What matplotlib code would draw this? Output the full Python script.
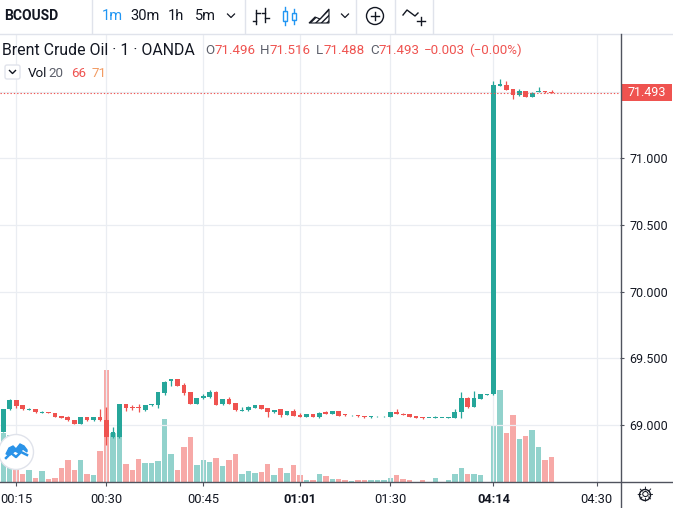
import matplotlib
matplotlib.use('Agg')
import matplotlib.pyplot as plt
import matplotlib.patches as mpatches

plt.rcParams['font.family'] = ['Roboto', 'DejaVu Sans']

W, H = 673, 508

# x axis: bar index positions of the time labels
time_ticks = [2, 16, 31, 46, 60, 76, 92]
time_labels = ['00:15', '00:30', '00:45', '01:01', '01:30', '04:14', '04:30']
bold_labels = ['01:01', '04:14']

price_ticks = [69.0, 69.5, 70.0, 70.5, 71.0]
last_price = 71.493

opens = [68.950, 69.118, 69.188, 69.150, 69.115, 69.118, 69.093, 69.094, 69.088, 69.068,
         69.062, 69.035, 69.010, 69.060, 69.035, 69.060, 69.035, 68.908, 68.908, 69.155,
         69.135, 69.132, 69.113, 69.148, 69.150, 69.240, 69.328, 69.343, 69.300, 69.245,
         69.160, 69.200, 69.212, 69.250, 69.155, 69.195, 69.163, 69.108, 69.110, 69.130,
         69.150, 69.125, 69.098, 69.118, 69.075, 69.107, 69.075, 69.062, 69.080, 69.062,
         69.100, 69.085, 69.105, 69.077, 69.072, 69.075, 69.068, 69.058, 69.064, 69.064,
         69.062, 69.095, 69.085, 69.080, 69.065, 69.060, 69.051, 69.051, 69.051, 69.052,
         69.052, 69.095, 69.200, 69.137, 69.197, 69.228, 69.230, 71.545, 71.550, 71.518,
         71.477, 71.503, 71.462, 71.501, 71.505, 71.496]
highs = [69.120, 69.192, 69.190, 69.152, 69.125, 69.120, 69.102, 69.096, 69.090, 69.070,
         69.064, 69.037, 69.062, 69.062, 69.062, 69.120, 69.137, 68.983, 69.157, 69.157,
         69.150, 69.158, 69.150, 69.160, 69.247, 69.327, 69.345, 69.345, 69.313, 69.247,
         69.202, 69.230, 69.265, 69.252, 69.197, 69.212, 69.165, 69.137, 69.139, 69.150,
         69.152, 69.127, 69.112, 69.120, 69.107, 69.122, 69.090, 69.082, 69.082, 69.094,
         69.102, 69.105, 69.107, 69.079, 69.076, 69.077, 69.070, 69.067, 69.068, 69.068,
         69.097, 69.120, 69.087, 69.082, 69.067, 69.062, 69.055, 69.065, 69.055, 69.062,
         69.120, 69.250, 69.210, 69.258, 69.235, 69.234, 71.582, 71.593, 71.582, 71.520,
         71.518, 71.505, 71.495, 71.537, 71.507, 71.516]
lows = [68.945, 69.115, 69.130, 69.115, 69.110, 69.093, 69.088, 69.090, 69.060, 69.052,
        69.033, 69.008, 69.008, 69.033, 69.033, 69.033, 68.850, 68.905, 68.905, 69.105,
        69.113, 69.098, 69.105, 69.140, 69.130, 69.225, 69.295, 69.293, 69.228, 69.156,
        69.158, 69.193, 69.205, 69.148, 69.153, 69.158, 69.108, 69.106, 69.108, 69.128,
        69.120, 69.058, 69.088, 69.062, 69.073, 69.068, 69.060, 69.060, 69.060, 69.055,
        69.081, 69.083, 69.068, 69.071, 69.070, 69.063, 69.056, 69.056, 69.062, 69.062,
        69.060, 69.083, 69.073, 69.060, 69.053, 69.048, 69.049, 69.049, 69.049, 69.050,
        69.050, 69.050, 69.125, 69.135, 69.195, 69.226, 69.225, 71.543, 71.510, 71.445,
        71.470, 71.460, 71.458, 71.498, 71.493, 71.488]
closes = [69.118, 69.188, 69.145, 69.118, 69.120, 69.095, 69.097, 69.091, 69.062, 69.055,
          69.035, 69.010, 69.060, 69.035, 69.060, 69.035, 68.908, 68.945, 69.155, 69.130,
          69.125, 69.128, 69.148, 69.158, 69.245, 69.325, 69.343, 69.295, 69.240, 69.158,
          69.200, 69.218, 69.250, 69.150, 69.195, 69.160, 69.110, 69.112, 69.137, 69.148,
          69.122, 69.100, 69.110, 69.075, 69.105, 69.070, 69.062, 69.080, 69.062, 69.092,
          69.083, 69.103, 69.070, 69.073, 69.074, 69.065, 69.058, 69.065, 69.066, 69.066,
          69.095, 69.085, 69.075, 69.062, 69.055, 69.050, 69.053, 69.053, 69.053, 69.060,
          69.095, 69.200, 69.137, 69.200, 69.233, 69.232, 71.550, 71.555, 71.513, 71.475,
          71.507, 71.462, 71.492, 71.503, 71.495, 71.493]
volumes = [134, 129, 55, 22, 32, 11, 29, 7, 11, 38, 60, 32, 60, 22, 19, 85, 308, 134, 214, 50,
           33, 63, 52, 52, 58, 173, 77, 33, 96, 124, 47, 60, 55, 66, 44, 60, 77, 22, 30, 26,
           28, 50, 19, 38, 25, 47, 19, 5, 5, 22, 16, 8, 8, 5, 2, 5, 5, 5, 5, 5,
           11, 19, 8, 5, 0, 5, 0, 11, 0, 5, 22, 38, 22, 22, 19, 0, 157, 253, 136, 184,
           119, 127, 143, 96, 61, 69]

UP, DOWN = '#26a69a', '#ef5350'
UP_VOL, DOWN_VOL = '#92d2cc', '#f7a9a7'
TEXT = '#131722'
GRID = '#eaedf2'
AXIS = '#50535e'

fig = plt.figure(figsize=(W / 100, H / 100), dpi=100)
fig.patch.set_facecolor('white')

rect = [0, 26 / H, 620 / W, 448 / H]
ax_vol = fig.add_axes(rect, zorder=1)
ax = fig.add_axes(rect, zorder=2, sharex=ax_vol)
ax.patch.set_alpha(0)

n = len(closes)
xs = list(range(n))
up = [c >= o for o, c in zip(opens, closes)]

# volume
ax_vol.bar(xs, volumes, width=0.84, color=[UP_VOL if u else DOWN_VOL for u in up], zorder=2)
ax_vol.set_ylim(0, 448 * 2.75)
ax_vol.axis('off')

# candles
ax.vlines(xs, lows, highs, colors=[UP if u else DOWN for u in up], lw=0.9, zorder=3)
bodies = [max(abs(c - o), 0.006) for o, c in zip(opens, closes)]
ax.bar(xs, bodies, bottom=[min(o, c) for o, c in zip(opens, closes)], width=0.72,
       color=[UP if u else DOWN for u in up], zorder=4)

ax.set_xlim(-3.3 / 6.45, (620 - 3.3) / 6.45)
ax.set_ylim(69 - 57 / 133.33, 69 + 391 / 133.33)

ax.set_xticks(time_ticks)
ax.set_xticklabels(time_labels, fontsize=9.3, color=TEXT)
for lab in ax.get_xticklabels():
    if lab.get_text() in bold_labels:
        lab.set_fontweight('bold')
ax.yaxis.tick_right()
ax.set_yticks(price_ticks)
ax.set_yticklabels([f'{p:.3f}' for p in price_ticks], fontsize=9, color=TEXT)
ax.tick_params(axis='x', length=3, width=0.8, color=AXIS, pad=5)
ax.tick_params(axis='y', length=3, width=0.8, color=AXIS, pad=4)
ax.grid(True, color=GRID, lw=0.9, zorder=0)
ax.axhline(71.5, color=GRID, lw=0.9, zorder=0)
for s in ax.spines.values():
    s.set_visible(False)

# last price line and label
ax.axhline(last_price, color=DOWN, lw=0.8, ls=(0, (1.2, 1.8)), zorder=5)

# overlay in pixel coordinates for toolbar, legend and frame
ov = fig.add_axes([0, 0, 1, 1], zorder=10)
ov.set_xlim(0, W)
ov.set_ylim(H, 0)
ov.axis('off')
ov.patch.set_alpha(0)

ov.plot([0, W], [33.5, 33.5], color='#e0e3eb', lw=1)
for x in [92, 245, 356, 395, 433]:
    ov.plot([x, x], [0, 33], color='#e0e3eb', lw=1)
ov.plot([0, W], [482, 482], color=AXIS, lw=1)
ov.plot([620.5, 620.5], [34, H], color=AXIS, lw=1)

# price label box on the scale
ov.add_patch(mpatches.Rectangle((621, 83.5), 51, 17.5, fc=DOWN, ec='none'))
ov.text(646.5, 92.3, f'{last_price:.3f}', fontsize=9, color='white', ha='center', va='center')

ov.text(4, 16, 'BCOUSD', fontsize=10, fontweight='bold', color=TEXT, va='center')
for x, t in [(102, '1m'), (130, '30m'), (168, '1h'), (195, '5m')]:
    ov.text(x, 16, t, fontsize=10.5, color='#2196f3' if t == '1m' else TEXT, va='center')
for cx in [231, 345]:
    ov.plot([cx - 3.5, cx, cx + 3.5], [14, 17.5, 14], color=TEXT, lw=0.9)

# bar icon
for bx, top, bot, lt, rt in [(256, 10, 24, 21, 13), (265, 8, 22, 13, 18)]:
    ov.plot([bx, bx], [top, bot], color=TEXT, lw=1)
    ov.plot([bx - 3.5, bx], [lt, lt], color=TEXT, lw=1)
    ov.plot([bx, bx + 3.5], [rt, rt], color=TEXT, lw=1)
# candle icon
for bx, top, bot, wt, wb in [(285, 11, 21, 7, 25), (294, 13, 20, 9, 24)]:
    ov.add_patch(mpatches.Rectangle((bx - 2.2, top), 4.4, bot - top, fc='none', ec='#2196f3', lw=1))
    ov.plot([bx, bx], [wt, top], color='#2196f3', lw=1)
    ov.plot([bx, bx], [bot, wb], color='#2196f3', lw=1)
# area icon
ov.add_patch(mpatches.Polygon([(309, 23), (315, 17), (320, 19), (329, 9), (329, 23)],
                              closed=True, fc='white', ec=TEXT, lw=0.8, hatch='//////'))
# crosshair circle
ov.add_patch(mpatches.Circle((375, 16), 8.5, fc='none', ec=TEXT, lw=1))
ov.plot([371, 379], [16, 16], color=TEXT, lw=1)
ov.plot([375, 375], [12, 20], color=TEXT, lw=1)
# indicator icon
ov.plot([403, 407, 411, 415, 418], [15, 10, 13, 16, 13], color=TEXT, lw=1)
ov.plot([417, 425], [21, 21], color=TEXT, lw=1)
ov.plot([421, 421], [17, 25], color=TEXT, lw=1)

# legend
ov.text(2, 50.5, 'Brent Crude Oil · 1 · OANDA', fontsize=11.4, color=TEXT, va='center')
renderer = fig.canvas.get_renderer()
for x, letter, val in [(205, 'O', '71.496'), (260, 'H', '71.516'), (316, 'L', '71.488'),
                       (370, 'C', '71.493'), (424, '', '−0.003'), (469, '', '(−0.00%)')]:
    dx = 0
    if letter:
        t = ov.text(x, 50.5, letter, fontsize=9.6, color='#5d606b', va='center')
        dx = t.get_window_extent(renderer).width
    ov.text(x + dx, 50.5, val, fontsize=9.6, color=DOWN, va='center')

ov.add_patch(mpatches.FancyBboxPatch((5, 65), 15, 14, boxstyle='round,pad=0,rounding_size=2',
                                     fc='white', ec='#e0e3eb', lw=1))
ov.plot([9.5, 12.5, 15.5], [70.5, 73.5, 70.5], color=TEXT, lw=1)
ov.text(28, 73.5, 'Vol', fontsize=9.6, color=TEXT, va='center')
ov.text(48, 73.5, '20', fontsize=9.6, color='#5d606b', va='center')
ov.text(71, 73.5, '66', fontsize=9.6, color=DOWN, va='center')
ov.text(92, 73.5, '71', fontsize=9.6, color='#f29b63', va='center')

# logo badge
ov.add_patch(mpatches.Circle((16, 452), 17.5, fc='white', ec='#e0e3eb', lw=1, zorder=3))
ov.add_patch(mpatches.Polygon([(6, 454), (9, 448), (13, 446), (16, 449), (20, 444), (24, 446),
                               (27, 450), (27, 452), (23, 449), (19, 453), (15, 451), (10, 455)],
                              closed=True, fc='#2a93e8', ec='#2a93e8', lw=1, zorder=4))
ov.plot([6, 11, 16, 21, 27], [458, 453, 457, 452, 455], color='#2a93e8', lw=1.8, zorder=4)

# settings gear
ov.add_patch(mpatches.Circle((645, 495), 5.5, fc='none', ec=TEXT, lw=1))
ov.text(645, 495.5, '☼', fontsize=15, color=TEXT, ha='center', va='center', family='DejaVu Sans')

fig.savefig('out.png', dpi=100)
